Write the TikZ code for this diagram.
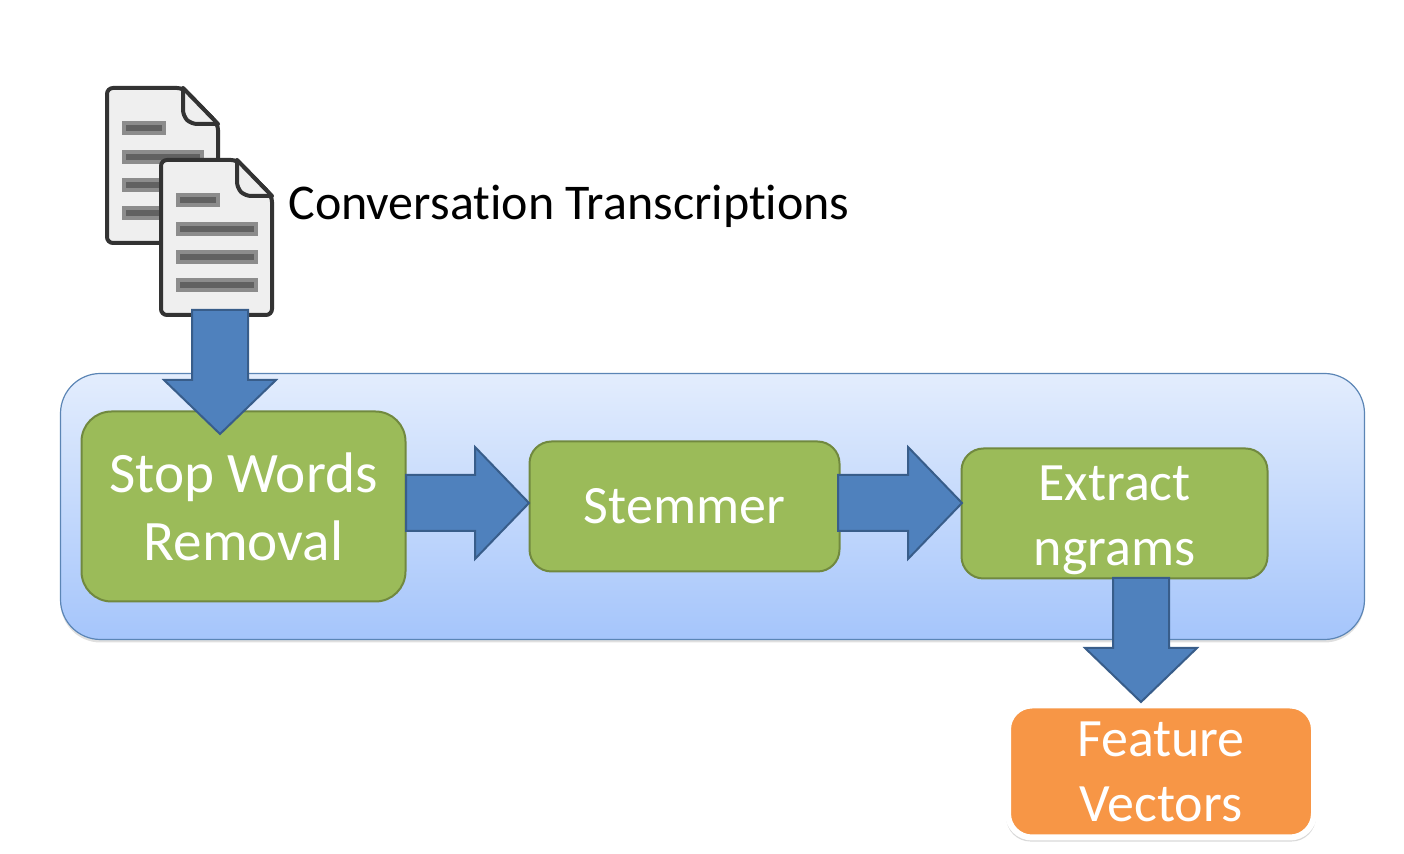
\documentclass[tikz,border=0pt]{standalone}
\usepackage{fontspec}
\setmainfont[Ligatures=NoCommon]{Carlito}
\usetikzlibrary{positioning}
\usetikzlibrary{calc}
\usetikzlibrary{shadows}
\definecolor{panelline}{HTML}{5B85B5}
\definecolor{paneltop}{HTML}{E3EDFD}
\definecolor{panelbottom}{HTML}{A5C5FB}
\definecolor{stepgreen}{HTML}{9BBB59}
\definecolor{stepline}{HTML}{71893F}
\definecolor{arrowblue}{HTML}{4F81BD}
\definecolor{arrowline}{HTML}{385D8A}
\definecolor{outorange}{HTML}{F79646}
\definecolor{sheetfill}{HTML}{EFEFEF}
\definecolor{sheetline}{HTML}{333333}
\tikzset{
    panelbox/.style={
        draw=panelline,
        line width=0.6pt,
        rounded corners=20pt,
        top color=paneltop,
        bottom color=panelbottom,
        minimum width=652pt,
        minimum height=133pt,
        drop shadow={shadow xshift=0pt, shadow yshift=-1.5pt, opacity=0.25}
    },
    procbox/.style={
        draw=stepline,
        line width=1pt,
        fill=stepgreen,
        text=white,
        align=center,
        font=\fontsize{27}{32.5}\selectfont
    },
    outbox/.style={
        draw=white,
        line width=3pt,
        fill=outorange,
        text=white,
        align=center,
        rounded corners=12pt,
        font=\fontsize{27}{32.5}\selectfont,
        drop shadow={shadow xshift=0pt, shadow yshift=-1.6pt, shadow scale=1.012, opacity=0.3}
    },
    blockedge/.style={
        draw=arrowline,
        fill=arrowblue,
        line width=1pt,
        to path={
            let \p1=($(\tikztotarget)!27pt!(\tikztostart)$) in
            ($(\tikztostart)!14pt!90:(\tikztotarget)$)
            -- ($(\p1)!14pt!90:(\tikztotarget)$)
            -- ($(\p1)!28pt!90:(\tikztotarget)$)
            -- (\tikztotarget)
            -- ($(\p1)!28pt!-90:(\tikztotarget)$)
            -- ($(\p1)!14pt!-90:(\tikztotarget)$)
            -- ($(\tikztostart)!14pt!-90:(\tikztotarget)$)
            -- cycle
        }
    },
    docbar/.style={
        draw=black!45,
        line width=2pt,
        fill=black!62
    },
    pics/docsheet/.style={
        code={
            \draw[draw=sheetline, fill=sheetfill, line width=2pt, line join=round, rounded corners=3pt]
                (0,0) -- (76,0) -- (111,36) -- (111,155) -- (0,155) -- cycle;
            \draw[draw=sheetline, fill=sheetfill, line width=2pt, line join=round, rounded corners=3pt]
                (76,0) -- (76,28) -- (84,36) -- (111,36);
            \draw[draw=sheetline, line width=2pt, line cap=round] (76,0) -- (111,36);
            \draw[docbar] (17,35) rectangle (57,45);
            \foreach \y in {64,92,120}
                \draw[docbar] (17,\y) rectangle (95,\y+10);
        }
    }
}
\begin{document}
\begin{tikzpicture}[x=0.5pt, y=-0.5pt]
    \useasboundingbox (0,0) rectangle (1404,854);
    \node[panelbox] (panel) at (712.5,506.5) {};

    \node[procbox, rounded corners=15pt, minimum width=162pt, minimum height=95pt, font=\fontsize{28.6}{34}\selectfont] (stop) at (243.5,506.5) {Stop Words\\Removal};
    \node[procbox, rounded corners=11pt, minimum width=155pt, minimum height=65pt, right=61pt of stop] (stem) {Stemmer};
    \node[procbox, rounded corners=11pt, minimum width=153pt, minimum height=65pt, inner ysep=0pt, right=60pt of stem, yshift=-3.5pt] (extract) {\rule{0pt}{24pt}Extract\\ngrams};
    \node[outbox, minimum width=153pt, minimum height=66pt] (feature) at (1161,771.5) {Feature\\Vectors};

    \pic at (107,88) {docsheet};
    \pic at (161,160) {docsheet};
    \node[anchor=west, inner sep=0pt, font=\fontsize{25}{30}\selectfont] (title) at (288,206) {Conversation Transcriptions};

    \coordinate (docout) at (220,310);
    \coordinate (stoptip) at (220,434);
    \coordinate (stopout) at (406,503);
    \coordinate (stemtip) at (529,503);
    \coordinate (stemout) at (838,503);
    \coordinate (extracttip) at (962,503);
    \coordinate (extractout) at (1141,578);
    \coordinate (featuretip) at (1141,702);

    \draw[blockedge] (docout) to (stoptip);
    \draw[blockedge] (stopout) to (stemtip);
    \draw[blockedge] (stemout) to (extracttip);
    \draw[blockedge] (extractout) to (featuretip);
\end{tikzpicture}
\end{document}
